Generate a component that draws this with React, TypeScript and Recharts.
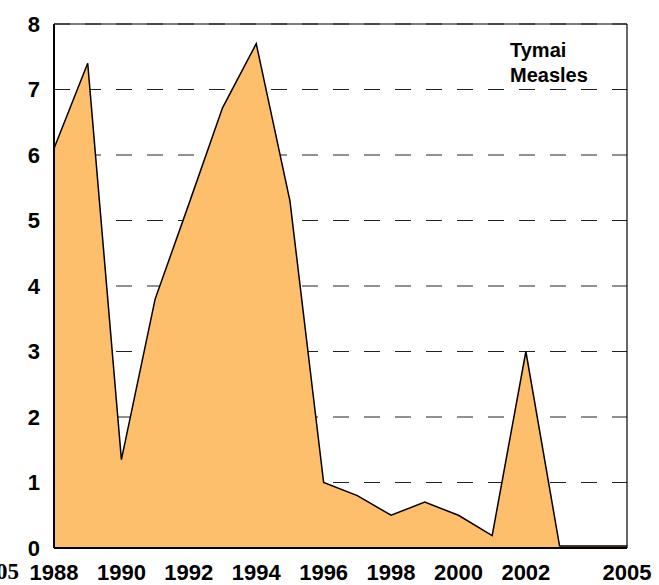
import React from "react";
import {
  Area,
  AreaChart,
  CartesianGrid,
  ReferenceLine,
  XAxis,
  YAxis,
} from "recharts";

const years = [
  1988, 1989, 1990, 1991, 1992, 1993, 1994, 1995, 1996, 1997, 1998, 1999,
  2000, 2001, 2002, 2003, 2004, 2005,
];
const measles = [
  6.1, 7.4, 1.35, 3.8, 5.25, 6.72, 7.7, 5.3, 1.0, 0.8, 0.5, 0.7, 0.5, 0.19,
  3.0, 0.03, 0.03, 0.03,
];
const xTicks = [1988, 1990, 1992, 1994, 1996, 1998, 2000, 2002, 2005];
const yTicks = [0, 1, 2, 3, 4, 5, 6, 7, 8];

const data = years.map((year, i) => ({ year, value: measles[i] }));

const font = "'Liberation Sans', Arial, sans-serif";
const tickStyle = {
  fontFamily: font,
  fontSize: 22,
  fontWeight: 700,
  fill: "#000",
};

export default function App() {
  return (
    <div
      style={{
        position: "absolute",
        left: 0,
        top: 0,
        width: 659,
        height: 585,
        background: "#fff",
        overflow: "hidden",
      }}
    >
      <AreaChart
        width={659}
        height={585}
        data={data}
        margin={{ top: 24, right: 32, left: 0, bottom: 0 }}
      >
        <CartesianGrid
          vertical={false}
          stroke="#222"
          strokeDasharray="16 15"
        />
        <XAxis
          dataKey="year"
          type="number"
          domain={[1988, 2005]}
          ticks={xTicks}
          interval={0}
          height={37}
          tickLine={false}
          tickSize={6}
          tickMargin={10}
          axisLine={{ stroke: "#000", strokeWidth: 2 }}
          tick={tickStyle}
        />
        <YAxis
          domain={[0, 8]}
          ticks={yTicks}
          width={54}
          interval={0}
          tickLine={false}
          tickSize={6}
          tickMargin={8}
          axisLine={{ stroke: "#000", strokeWidth: 2 }}
          tick={tickStyle}
        />
        <Area
          type="linear"
          dataKey="value"
          stroke="#000"
          strokeWidth={1.5}
          fill="#FDBF6B"
          fillOpacity={1}
          isAnimationActive={false}
        />
        <ReferenceLine y={8} stroke="#000" strokeWidth={1.2} />
        <ReferenceLine x={2005} stroke="#000" strokeWidth={1.2} />
      </AreaChart>
      <div
        style={{
          position: "absolute",
          left: 510,
          top: 38,
          fontFamily: font,
          fontSize: 20,
          fontWeight: 700,
          lineHeight: "25px",
          color: "#000",
        }}
      >
        Tymai
        <br />
        Measles
      </div>
      <div
        style={{
          position: "absolute",
          right: 640,
          top: 560,
          fontFamily: "'Liberation Serif', serif",
          fontSize: 23,
          fontWeight: 700,
          lineHeight: "23px",
          color: "#000",
          whiteSpace: "nowrap",
        }}
      >
        2005
      </div>
    </div>
  );
}
